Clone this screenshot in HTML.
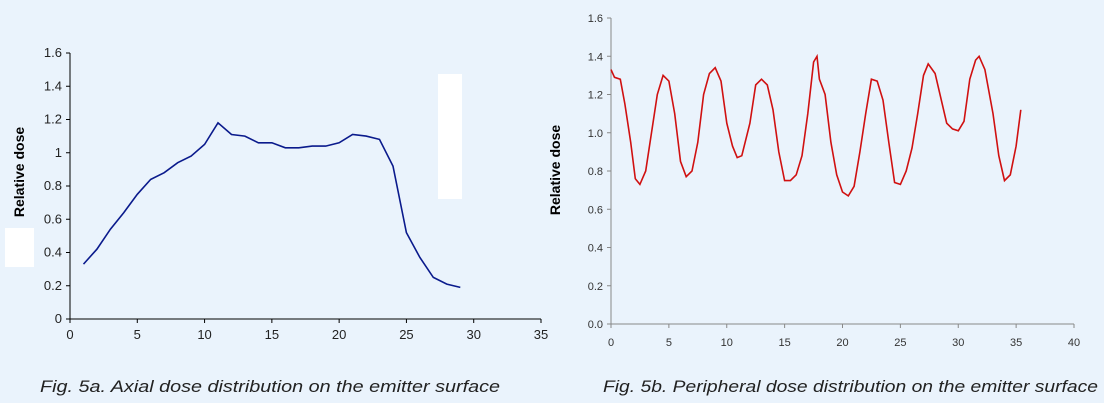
<!DOCTYPE html>
<html><head><meta charset="utf-8"><style>
html,body{margin:0;padding:0;background:#eaf3fc;}
svg{display:block;font-family:"Liberation Sans",sans-serif;}
</style></head><body>
<svg id="c" width="1104" height="403" xmlns="http://www.w3.org/2000/svg">
<rect x="0" y="0" width="1104" height="403" fill="#eaf3fc"/>
<g id="left"></g>
<g id="right"></g>
<rect x="438" y="74" width="24" height="125" fill="#ffffff"/>
<rect x="5" y="228" width="29" height="39" fill="#ffffff"/>
<text x="40" y="392" font-size="17" font-style="italic" fill="#222" textLength="460" lengthAdjust="spacingAndGlyphs">Fig. 5a. Axial dose distribution on the emitter surface</text>
<text x="603" y="392" font-size="17" font-style="italic" fill="#222" textLength="495" lengthAdjust="spacingAndGlyphs">Fig. 5b. Peripheral dose distribution on the emitter surface</text>
</svg>
<script>
const axialX=[1,2,3,4,5,6,7,8,9,10,11,12,13,14,15,16,17,18,19,20,21,22,23,24,25,26,27,28,29];
const axialY=[0.33,0.42,0.54,0.64,0.75,0.84,0.88,0.94,0.98,1.05,1.18,1.11,1.10,1.06,1.06,1.03,1.03,1.04,1.04,1.06,1.11,1.10,1.08,0.92,0.52,0.37,0.25,0.21,0.19];
const leftYTicks=["0","0.2","0.4","0.6","0.8","1","1.2","1.4","1.6"];
const leftXTicks=["0","5","10","15","20","25","30","35"];
const periphX=[0,0.3,0.8,1.2,1.7,2.1,2.5,3,3.5,4,4.5,5,5.5,6,6.5,7,7.5,8,8.5,9,9.5,10,10.5,10.9,11.3,12,12.5,13,13.5,14,14.5,15,15.5,16,16.5,17,17.5,17.8,18,18.5,19,19.5,20,20.5,21,21.5,22,22.5,23,23.5,24,24.5,25,25.5,26,26.5,27,27.4,28,28.5,29,29.5,30,30.5,31,31.5,31.8,32.3,33,33.5,34,34.5,35,35.4];
const periphY=[1.33,1.29,1.28,1.15,0.95,0.76,0.73,0.8,1.0,1.2,1.3,1.27,1.1,0.85,0.77,0.8,0.95,1.2,1.31,1.34,1.27,1.05,0.93,0.87,0.88,1.05,1.25,1.28,1.25,1.12,0.9,0.75,0.75,0.78,0.88,1.1,1.37,1.40,1.28,1.2,0.95,0.78,0.69,0.67,0.72,0.9,1.1,1.28,1.27,1.17,0.95,0.74,0.73,0.8,0.92,1.1,1.3,1.36,1.31,1.18,1.05,1.02,1.01,1.06,1.28,1.38,1.40,1.33,1.1,0.88,0.75,0.78,0.93,1.12];
const rightYTicks=["0.0","0.2","0.4","0.6","0.8","1.0","1.2","1.4","1.6"];
const rightXTicks=["0","5","10","15","20","25","30","35","40"];
const NS="http://www.w3.org/2000/svg";
function mk(p,t,a){const e=document.createElementNS(NS,t);for(const k in a)e.setAttribute(k,a[k]);p.appendChild(e);return e;}
function chart(g,o){
 const sx=v=>o.x0+(v-o.xmin)/(o.xmax-o.xmin)*(o.x1-o.x0);
 const sy=v=>o.y0-(v/1.6)*(o.y0-o.y1);
 let a=mk(g,'line',{x1:o.x0,y1:o.y0,x2:o.x0,y2:o.y1,stroke:o.axc,'stroke-width':1});
 
 
 a=mk(g,'line',{x1:o.x0,y1:o.y0,x2:o.x1,y2:o.y0,stroke:o.axc,'stroke-width':1});
 
 
 o.yt.forEach((t,i)=>{const y=sy(i*0.2);
  const tk=mk(g,'line',{x1:o.x0-4,y1:y,x2:o.x0,y2:y,stroke:o.axc});
  
  
  const tx=mk(g,'text',{x:o.x0-8,y:y+4,'text-anchor':'end','font-size':o.fs,fill:o.tc});tx.textContent=t;
  
  });
 o.xt.forEach((t,i)=>{const x=sx(i*5);
  const tk=mk(g,'line',{x1:x,y1:o.y0,x2:x,y2:o.y0+4,stroke:o.axc});
  
  
  const tx=mk(g,'text',{x:x,y:o.y0+o.xly,'text-anchor':'middle','font-size':o.fs,fill:o.tc});tx.textContent=t;
  
  });
 const yl=mk(g,'text',{x:0,y:0,transform:`translate(${o.ylx},${o.yly}) rotate(-90)`,'text-anchor':'middle','font-size':14,'font-weight':'bold',fill:'#000'});
 yl.textContent='Relative dose';
 
 
 const d=o.X.map((v,i)=>(i?'L':'M')+sx(v).toFixed(1)+','+sy(o.Y[i]).toFixed(1)).join('');
 const p=mk(g,'path',{d:d,fill:'none',stroke:o.lc,'stroke-width':o.lw});
 
 
}
chart(document.getElementById('left'),{x0:70,x1:541,y0:319,y1:53,xmin:0,xmax:35,yt:leftYTicks,xt:leftXTicks,X:axialX,Y:axialY,axc:'#000',tc:'#222',fs:13,xly:20,ylx:24,yly:172,lc:'#0a1a8c',lw:1.6});
chart(document.getElementById('right'),{x0:611,x1:1074,y0:324,y1:18,xmin:0,xmax:40,yt:rightYTicks,xt:rightXTicks,X:periphX,Y:periphY,axc:'#888',tc:'#333',fs:11,xly:22,ylx:560,yly:170,lc:'#d01010',lw:1.6});
</script>
</body></html>
